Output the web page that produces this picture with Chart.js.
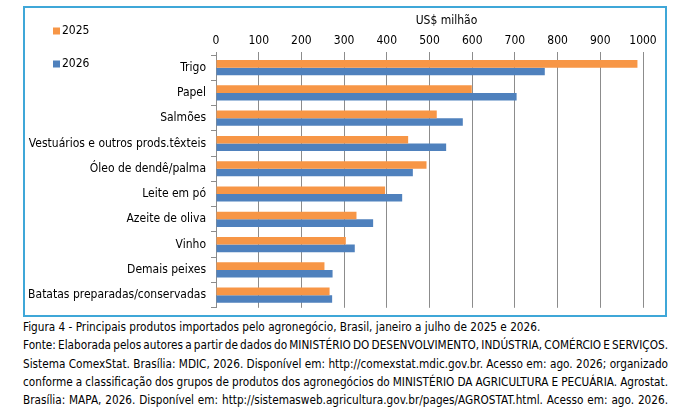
<!DOCTYPE html>
<html>
<head>
<meta charset="utf-8">
<script src="https://cdn.jsdelivr.net/npm/chart.js@4/dist/chart.umd.min.js"></script>
<style>
  body { margin: 0; background: #fff; width: 695px; height: 416px; position: relative; overflow: hidden; }
  #frame { position: absolute; left: 23px; top: 6px; width: 640px; height: 307px; border: 2px solid #3fa7d8; }
  #wrap { position: absolute; left: 0; top: 0; width: 695px; height: 320px; }
  .cap { position: absolute; left: 23px; white-space: nowrap;
         font-family: "DejaVu Sans Condensed", "DejaVu Sans", sans-serif; font-size: 11.7px; color: #000; line-height: 14px; }
</style>
</head>
<body>
<div id="frame"></div>
<div id="wrap"><canvas id="importChart"></canvas></div>

<div class="cap" style="top:320px">Figura 4 - Principais produtos importados pelo agronegócio, Brasil, janeiro a julho de 2025 e 2026.</div>
<div class="cap just" style="top:338px">Fonte: Elaborada pelos autores a partir de dados do MINISTÉRIO DO DESENVOLVIMENTO, INDÚSTRIA, COMÉRCIO E SERVIÇOS.</div>
<div class="cap just" style="top:357px">Sistema ComexStat. Brasília: MDIC, 2026. Disponível em: http://comexstat.mdic.gov.br. Acesso em: ago. 2026; organizado</div>
<div class="cap just" style="top:375px">conforme a classificação dos grupos de produtos dos agronegócios do MINISTÉRIO DA AGRICULTURA E PECUÁRIA. Agrostat.</div>
<div class="cap just" style="top:393px">Brasília: MAPA, 2026. Disponível em: http://sistemasweb.agricultura.gov.br/pages/AGROSTAT.html. Acesso em: ago. 2026.</div>

<script>

const products = [
    "Trigo",
    "Papel",
    "Salmões",
    "Vestuários e outros prods.têxteis",
    "Óleo de dendê/palma",
    "Leite em pó",
    "Azeite de oliva",
    "Vinho",
    "Demais peixes",
    "Batatas preparadas/conservadas"
];

const values2025 = [987, 599, 517, 450, 493, 396, 329, 304, 254, 266];
const values2026 = [770, 704, 578, 539, 461, 436, 368, 325, 273, 272];

const xTicks = [0, 100, 200, 300, 400, 500, 600, 700, 800, 900, 1000];

const fontFamily = '"DejaVu Sans Condensed", "DejaVu Sans", sans-serif';


// stretch / squeeze the justified caption lines to the same right edge
document.querySelectorAll(".cap.just").forEach(el => {
    const spaces = (el.textContent.match(/ /g) || []).length;
    const extra = 645 - el.getBoundingClientRect().width;
    el.style.wordSpacing = (extra / spaces) + "px";
});


// =================== legend + unit label ===================

const cornerLegend = {

    id: "cornerLegend",

    afterDraw(chart) {

        const { ctx, chartArea } = chart;

        ctx.save();
        ctx.font = "12px " + fontFamily;
        ctx.textBaseline = "middle";
        ctx.fillStyle = "#000";

        chart.data.datasets.forEach((ds, i) => {
            const y = 31 + i * 33;
            ctx.fillStyle = ds.backgroundColor;
            ctx.fillRect(53, y - 3.5, 7, 7);
            ctx.fillStyle = "#000";
            ctx.textAlign = "left";
            ctx.fillText(ds.label, 62, y);
        });

        ctx.textAlign = "center";
        ctx.fillText("US$ milhão", (chartArea.left + chartArea.right) / 2 + 17, 21);

        ctx.restore();

    }

};


new Chart(document.getElementById("importChart"), {

    type: "bar",

    data: {

        labels: products,

        datasets: [{
            label: "2025",
            data: values2025,
            backgroundColor: "#f79646"
        }, {
            label: "2026",
            data: values2026,
            backgroundColor: "#4f81bd"
        }]
    },

    options: {

        indexAxis: "y",
        responsive: true,
        maintainAspectRatio: false,
        animation: false,

        categoryPercentage: 0.6,
        barPercentage: 1.0,

        layout: { padding: { left: 0, right: 52, top: 0, bottom: 10 } },

        plugins: {
            legend: { display: false },
            tooltip: { enabled: false }
        },

        scales: {

            x: {
                position: "top",
                min: 0,
                max: 1000,
                afterBuildTicks(scale) {
                    scale.ticks = xTicks.map(v => ({ value: v }));
                },
                afterFit(scale) { scale.height = 55; },
                border: { display: false },
                grid: { color: "#8c8c8c", lineWidth: 1, tickLength: 3 },
                ticks: {
                    color: "#000",
                    padding: 4,
                    font: { family: fontFamily, size: 12 },
                    callback: v => String(v)
                }
            },

            y: {
                afterFit(scale) { scale.width = 216; },
                border: { display: true, color: "#8c8c8c" },
                grid: {
                    offset: true,
                    drawOnChartArea: false,
                    color: "#8c8c8c",
                    tickLength: 5
                },
                ticks: {
                    color: "#000",
                    padding: 5,
                    font: { family: fontFamily, size: 12 }
                }
            }
        }
    },

    plugins: [cornerLegend]

});

</script>
</body>
</html>
